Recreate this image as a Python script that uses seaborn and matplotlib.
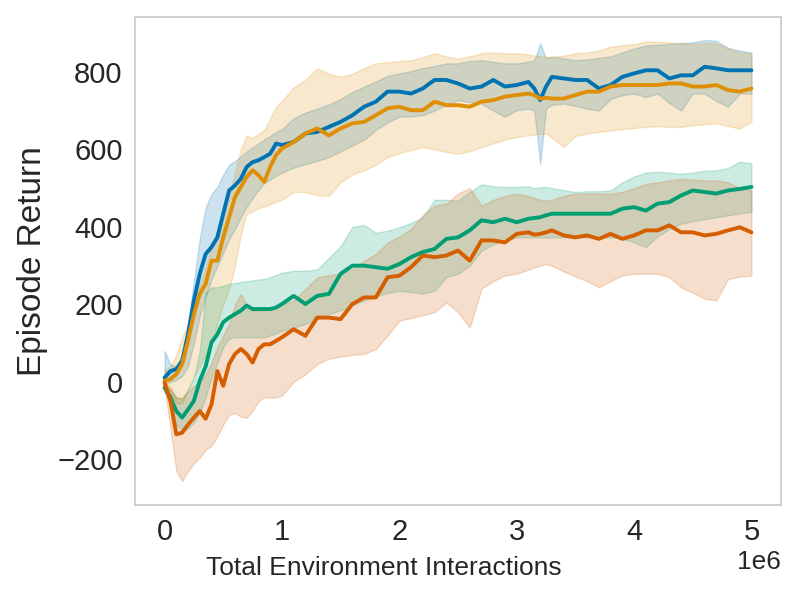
import numpy as np
import pandas as pd
import matplotlib
matplotlib.use("Agg")
import matplotlib.pyplot as plt
import seaborn as sns

# x positions in millions of environment interactions
X_M = [0, .05, .1, .15, .2, .25, .3, .35, .4, .45, .5, .55, .6, .65, .7, .75, .8, .85, .9, .95, 1.0,
       1.1, 1.2, 1.3, 1.4, 1.5, 1.6, 1.7, 1.8, 1.9, 2.0, 2.1, 2.2, 2.3, 2.4, 2.5, 2.6, 2.7, 2.8, 2.9, 3.0, 3.1,
       3.15, 3.2, 3.25,
       3.3, 3.4, 3.5, 3.6, 3.7, 3.8, 3.9, 4.0, 4.1, 4.2, 4.3, 4.4, 4.5, 4.6, 4.7, 4.8, 4.9, 5.0]

blue_mean = [11, 28, 33, 54, 123, 210, 279, 330, 348, 373, 434, 494, 507, 524, 555, 567, 572, 580, 589, 615, 611,
             619, 641, 645, 658, 671, 688, 710, 723, 749, 749, 744, 757, 779, 779, 770, 757, 762, 779, 762, 766, 774,
             757, 727, 762,
             787, 783, 779, 779, 757, 766, 787, 796, 804, 804, 783, 791, 791, 813, 809, 804, 804, 804]
blue_lo = [-6, 0, 5, 15, 40, 100, 170, 220, 265, 300, 333, 368, 395, 425, 451, 475, 495, 513, 522, 532, 540,
           553, 562, 570, 580, 595, 610, 625, 650, 670, 684, 685, 688, 700, 715, 727, 722, 718, 700, 684, 701, 705,
           700, 563, 705,
           715, 718, 712, 705, 700, 730, 740, 744, 735, 744, 720, 700, 744, 744, 725, 710, 744, 744]
blue_hi = [80, 45, 40, 70, 150, 260, 370, 450, 485, 503, 535, 560, 570, 582, 595, 605, 615, 626, 635, 645, 652,
           680, 695, 705, 716, 730, 748, 762, 775, 790, 796, 802, 810, 815, 822, 822, 828, 830, 826, 822, 822, 826,
           830, 874, 835,
           839, 835, 830, 832, 836, 840, 850, 860, 868, 870, 872, 874, 876, 882, 880, 862, 855, 850]

orange_mean = [3, 7, 20, 46, 106, 175, 227, 253, 313, 313, 373, 425, 477, 503, 529, 546, 533, 516, 555, 585, 602,
               619, 641, 654, 636, 654, 667, 671, 688, 706, 710, 701, 701, 723, 714, 714, 710, 723, 727, 736, 740, 744,
               740, 731, 733,
               731, 731, 740, 749, 749, 762, 766, 766, 766, 766, 770, 770, 762, 762, 766, 753, 749, 757]
orange_lo = [-6, -30, -55, -55, -20, 15, 40, 70, 100, 150, 200, 240, 300, 380, 434, 440, 448, 452, 458, 465, 470,
             490, 490, 482, 480, 515, 535, 546, 560, 580, 590, 598, 606, 600, 593, 589, 595, 606, 615, 625, 632, 636,
             638, 640, 641,
             630, 606, 635, 641, 645, 649, 652, 655, 658, 660, 658, 658, 662, 665, 667, 660, 654, 671]
orange_hi = [30, 40, 70, 115, 150, 200, 250, 300, 350, 390, 430, 480, 540, 600, 636, 630, 640, 650, 680, 710, 725,
             760, 780, 809, 795, 787, 795, 810, 822, 825, 828, 830, 838, 848, 840, 834, 840, 848, 850, 848, 848, 845,
             842, 840, 839,
             839, 842, 848, 850, 855, 865, 869, 872, 878, 878, 876, 874, 872, 874, 874, 860, 850, 848]

green_mean = [-15, -40, -75, -92, -71, -49, 3, 40, 102, 123, 154, 166, 175, 184, 197, 188, 188, 188, 188, 192, 201,
              222, 201, 222, 227, 279, 300, 300, 296, 292, 304, 322, 335, 343, 369, 373, 391, 417, 412, 421, 412, 421,
              423, 425, 430,
              434, 434, 434, 434, 434, 434, 447, 451, 442, 460, 464, 481, 494, 490, 486, 494, 498, 503]
green_lo = [-25, -60, -110, -127, -120, -105, -80, -40, 10, 50, 90, 112, 115, 115, 115, 115, 115, 115, 120, 125, 132,
            140, 150, 162, 175, 185, 198, 210, 220, 230, 235, 232, 228, 235, 270, 279, 300, 339, 355, 365, 373, 373,
            373, 373, 373,
            373, 373, 373, 373, 373, 373, 370, 360, 348, 375, 395, 408, 415, 420, 425, 430, 435, 438]
green_hi = [-5, -20, -40, -45, -20, 10, 80, 230, 244, 244, 248, 253, 255, 258, 260, 262, 264, 266, 270, 276, 282,
            287, 287, 290, 320, 350, 400, 405, 385, 390, 399, 410, 425, 470, 470, 468, 490, 510, 505, 503, 503, 505,
            500, 502, 503,
            500, 495, 490, 492, 492, 494, 515, 530, 540, 542, 540, 537, 540, 545, 546, 552, 568, 564]

red_mean = [-2, -49, -135, -131, -110, -92, -75, -95, -58, 28, -10, 46, 72, 85, 72, 50, 85, 97, 97, 106, 115,
            136, 119, 166, 166, 162, 201, 218, 218, 270, 274, 296, 326, 322, 326, 339, 313, 365, 365, 360, 382, 386,
            380, 382, 386,
            391, 378, 373, 378, 369, 382, 369, 378, 391, 391, 404, 386, 386, 378, 382, 391, 399, 386]
red_lo = [-10, -120, -230, -256, -230, -210, -195, -175, -165, -140, -110, -85, -80, -90, -92, -75, -50, -40, -40, -40, -35,
          0, 20, 46, 60, 65, 70, 72, 85, 120, 158, 165, 172, 180, 205, 180, 140, 240, 260, 275, 279, 290,
          295, 300, 304,
          300, 285, 272, 260, 244, 260, 275, 279, 279, 279, 270, 244, 230, 215, 210, 265, 272, 274]
red_hi = [0, -15, -40, -40, -25, -10, 0, 20, 50, 90, 120, 150, 200, 227, 200, 185, 184, 185, 190, 195, 200,
          210, 240, 270, 275, 280, 290, 313, 330, 360, 375, 395, 430, 455, 460, 486, 500, 455, 470, 480, 486, 480,
          475, 470, 468,
          470, 480, 486, 486, 486, 486, 490, 500, 511, 515, 520, 524, 522, 520, 520, 515, 500, 494]

SERIES = ["A", "B", "C", "D"]
MEANS = [blue_mean, orange_mean, green_mean, red_mean]
LOWS = [blue_lo, orange_lo, green_lo, red_lo]
HIGHS = [blue_hi, orange_hi, green_hi, red_hi]

sns.set_theme(style="whitegrid")
plt.rcParams["font.family"] = ["Liberation Sans", "DejaVu Sans"]
palette = sns.color_palette("colorblind", 4)

steps = np.array(X_M) * 1e6
frames = []
for name, m in zip(SERIES, MEANS):
    assert len(m) == len(X_M)
    frames.append(pd.DataFrame({"step": steps, "ret": m, "algo": name}))
df = pd.concat(frames, ignore_index=True)

fig = plt.figure(figsize=(8, 6), dpi=100)
ax = fig.add_axes([0.169, 0.158, 0.807, 0.814])

for i, (lo, hi) in enumerate(zip(LOWS, HIGHS)):
    assert len(lo) == len(X_M) and len(hi) == len(X_M)
    ax.fill_between(steps, lo, hi, color=palette[i], alpha=0.2, linewidth=1)

sns.lineplot(data=df, x="step", y="ret", hue="algo", palette=palette,
             linewidth=2.8, legend=False, ax=ax)

ax.grid(False)
for s in ax.spines.values():
    s.set_color("#cccccc")
    s.set_linewidth(1.3)

ax.set_xlim(-0.25e6, 5.25e6)
ax.set_ylim(-318, 942)
ax.set_yticks([-200, 0, 200, 400, 600, 800])
ax.set_xticks([0, 1e6, 2e6, 3e6, 4e6, 5e6])
ax.tick_params(axis="both", labelsize=21, pad=9, length=0, colors="#262626")
ax.xaxis.get_offset_text().set_fontsize(19)

ax.set_xlabel("Total Environment Interactions", fontsize=19, color="#262626")
ax.set_ylabel("Episode Return", fontsize=24, color="#262626")
ax.xaxis.set_label_coords(0.385, -0.103)
ax.yaxis.set_label_coords(-0.135, 0.5)

fig.savefig("out.png", dpi=100)
